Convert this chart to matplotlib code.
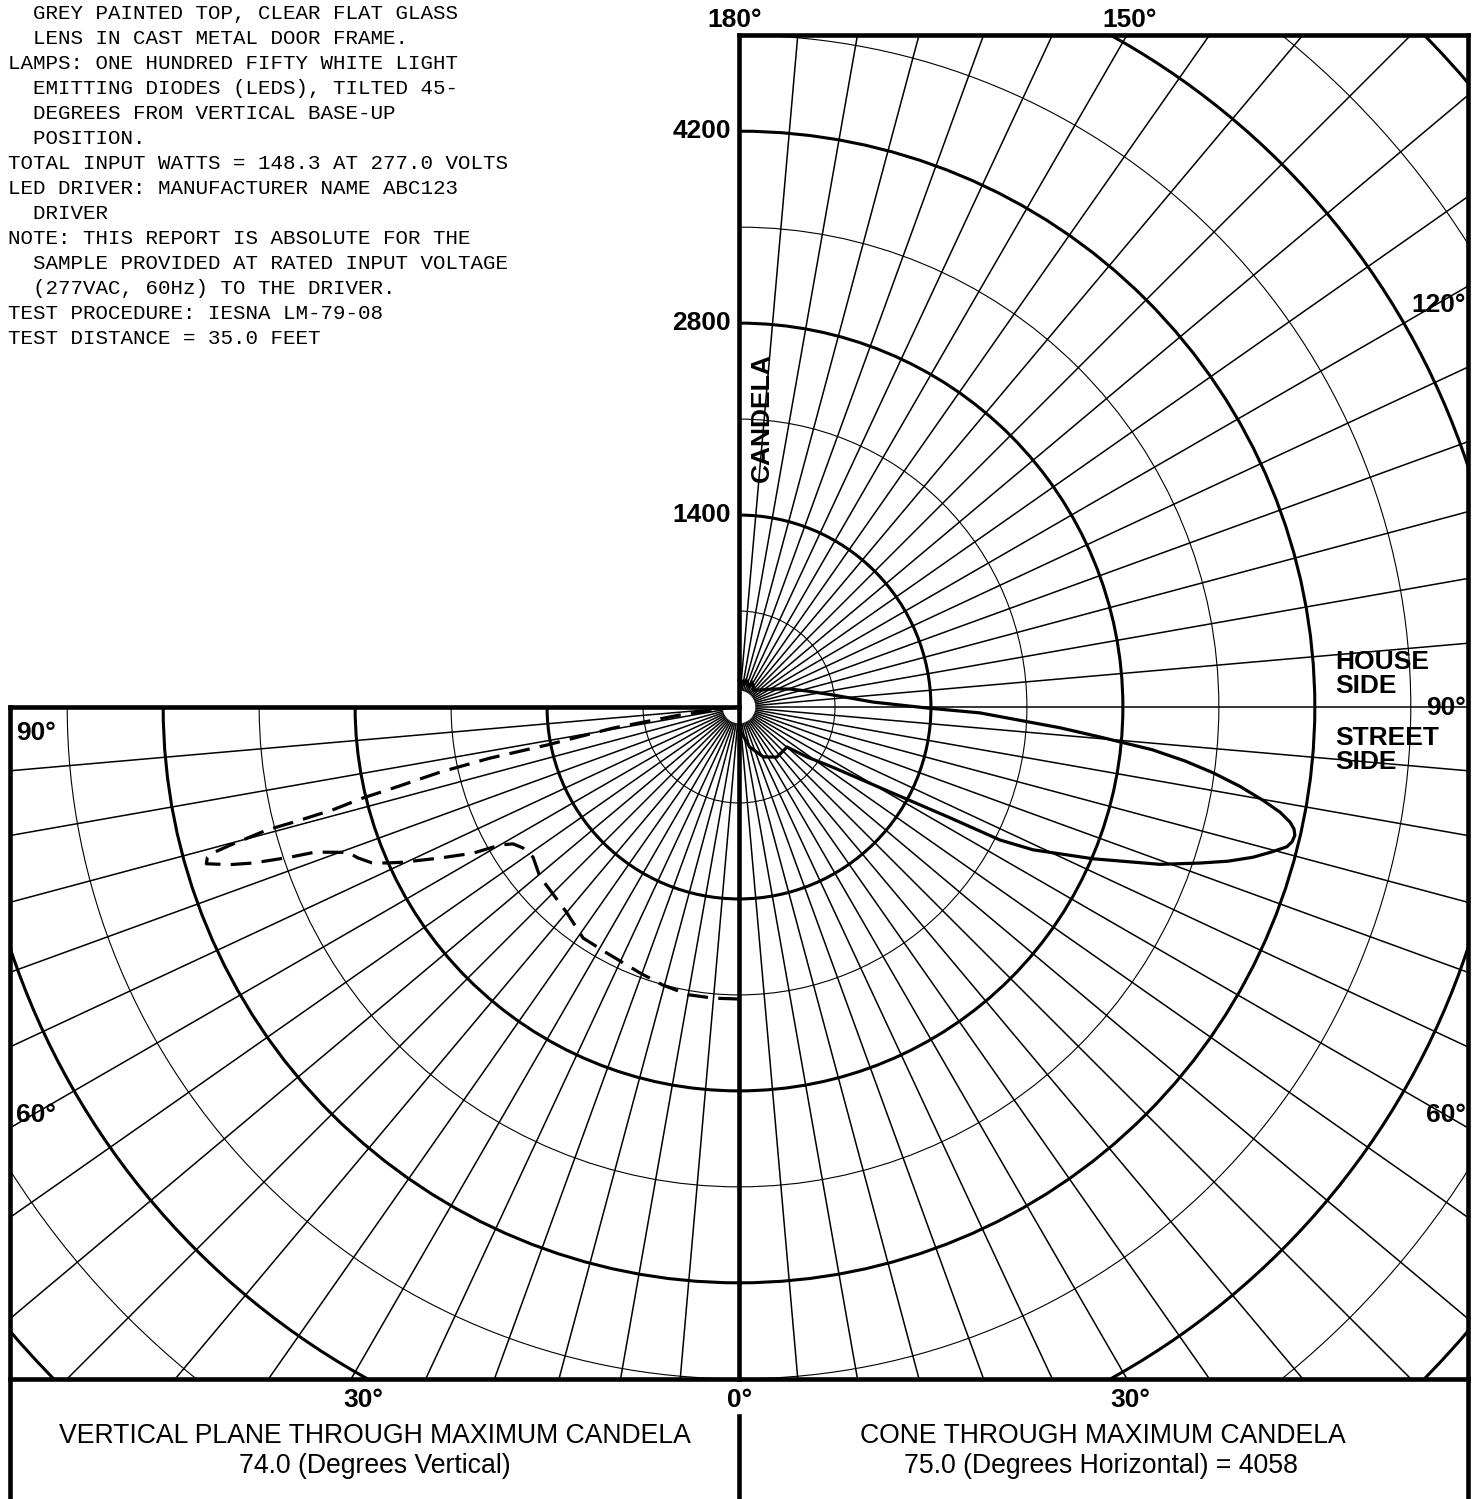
import numpy as np
import matplotlib.pyplot as plt
from matplotlib.patches import Arc, Rectangle

# vertical plane through maximum candela: degrees from nadir (toward the left) -> candela
vert_deg = [0, 5, 10, 15.3, 20.4, 28.2, 34, 39.9, 45.9, 49.5, 53.9, 56.9, 58.8, 60.0,
            61.2, 63.2, 65.2, 66.1, 67.0, 68.4, 69.6, 71.1, 71.5, 72.2, 72.8, 73.6,
            74.2, 74.5, 74.8, 75.4, 75.5, 75.8, 76.4, 76.8, 77.7, 78.4, 78.8, 80.5,
            82.3, 83.4, 85, 90]
vert_cd = [2130, 2132, 2131, 2103, 2070, 2037, 2033, 1957, 1919, 1909, 1859, 1882, 1927, 2013,
           2213, 2443, 2699, 2808, 2909, 2990, 3042, 3268, 3452, 3723, 3888, 4050,
           4030, 3982, 3847, 3557, 3360, 3055, 2822, 2592, 2232, 1854, 1428, 932,
           434, 191, 80, 0]

# cone through maximum candela: degrees horizontal (0 = street nadir, 180 = house) -> candela
cone_deg = [0, 2.5, 15, 26, 37, 44, 50.2, 53.7, 57, 61, 62.3, 63, 64.1, 66.8, 69.5,
            71.3, 72.5, 73.7, 74.8, 75.7, 76.3, 77.0, 77.6, 78.2, 79.0, 79.9, 81.0,
            82.1, 83.1, 84.1, 85.25, 86.3, 88.6, 89.7, 92.1, 97.3, 103.2, 109.4,
            117.9, 129, 138.6, 152.5, 153, 165.5, 167, 176, 180]
cone_cd = [170, 168, 303, 405, 458, 454, 456, 616, 791, 1343, 1739, 2137, 2385, 2810, 3277,
           3550, 3740, 3905, 4029, 4125, 4152, 4161, 4145, 4106, 4020, 3882, 3699,
           3491, 3277, 3029, 2642, 2346, 1758, 1371, 979, 691, 510, 394,
           281, 197, 165, 206, 163, 204, 165, 197, 200]

ring_cd = [700, 1400, 2100, 2800, 3500, 4200, 4900, 5600, 6300, 7000]
ring_labels = [1400, 2800, 4200]

notes = [
    "  GREY PAINTED TOP, CLEAR FLAT GLASS",
    "  LENS IN CAST METAL DOOR FRAME.",
    "LAMPS: ONE HUNDRED FIFTY WHITE LIGHT",
    "  EMITTING DIODES (LEDS), TILTED 45-",
    "  DEGREES FROM VERTICAL BASE-UP",
    "  POSITION.",
    "TOTAL INPUT WATTS = 148.3 AT 277.0 VOLTS",
    "LED DRIVER: MANUFACTURER NAME ABC123",
    "  DRIVER",
    "NOTE: THIS REPORT IS ABSOLUTE FOR THE",
    "  SAMPLE PROVIDED AT RATED INPUT VOLTAGE",
    "  (277VAC, 60Hz) TO THE DRIVER.",
    "TEST PROCEDURE: IESNA LM-79-08",
    "TEST DISTANCE = 35.0 FEET",
]

W, H = 1478, 1499
CX, CY = 739, 707          # pole of both diagrams (pixels)
S = 0.1371                 # pixels per candela
LEFT, RIGHT, TOP, BOTTOM = 10, 1468, 35, 1379
R_IN = 125                 # small blank hole round the pole

BOLD = dict(family='Liberation Sans', fontweight='bold', fontsize=19)
REG = dict(family='Liberation Sans', fontsize=19.2)

fig = plt.figure(figsize=(W / 100, H / 100), dpi=100)
ax = fig.add_axes([0, 0, 1, 1])
ax.set_xlim(-CX / S, (W - CX) / S)
ax.set_ylim(-(H - CY) / S, CY / S)
ax.axis('off')

lay = fig.add_axes([0, 0, 1, 1], zorder=5)
lay.set_xlim(0, W)
lay.set_ylim(H, 0)
lay.axis('off')
lay.patch.set_alpha(0)

right_clip = Rectangle((CX, TOP), RIGHT - CX, BOTTOM - TOP, transform=lay.transData)
left_clip = Rectangle((LEFT, CY), CX - LEFT, BOTTOM - CY, transform=lay.transData)


def cone_xy(deg, cd):
    t = np.radians(deg)
    return np.asarray(cd) * np.sin(t), -np.asarray(cd) * np.cos(t)


def vert_xy(deg, cd):
    t = np.radians(deg)
    return -np.asarray(cd) * np.sin(t), -np.asarray(cd) * np.cos(t)


# rings
for r in ring_cd:
    lw = 2.2 if r % 1400 == 0 else 0.8
    for (t1, t2), clip in [((-90, 90), right_clip), ((180, 270), left_clip)]:
        arc = Arc((0, 0), 2 * r, 2 * r, theta1=t1, theta2=t2, color='k', lw=lw)
        ax.add_patch(arc)
        arc.set_clip_path(clip)

# radials every 5 degrees
for a in range(5, 180, 5):
    ln, = ax.plot(*cone_xy([a, a], [R_IN, 9000]), color='k', lw=1.1)
    ln.set_clip_path(right_clip)
for a in range(5, 90, 5):
    ln, = ax.plot(*vert_xy([a, a], [R_IN, 9000]), color='k', lw=1.1)
    ln.set_clip_path(left_clip)

# distributions
ax.plot(*cone_xy(cone_deg, cone_cd), color='k', lw=2.3, solid_joinstyle='round')
ax.plot(*vert_xy(vert_deg, vert_cd), color='k', lw=2.3, linestyle=(0, (6.5, 3.2)))

# frame
fk = dict(color='k', lw=3.3, solid_capstyle='projecting')
lay.plot([CX, RIGHT], [TOP, TOP], **fk)
lay.plot([RIGHT, RIGHT], [TOP, H + 5], **fk)
lay.plot([LEFT, CX], [CY, CY], **fk)
lay.plot([LEFT, LEFT], [CY, H + 5], **fk)
lay.plot([LEFT, RIGHT], [BOTTOM, BOTTOM], **fk)
lay.plot([CX, CX], [TOP, BOTTOM], **fk)
lay.plot([CX, CX], [1416, H + 5], **fk)

# labels
lay.text(735, 20, '180°', ha='center', va='center', **BOLD)
lay.text(1130, 20, '150°', ha='center', va='center', **BOLD)
for v in ring_labels:
    lay.text(731, CY - v * S, str(v), ha='right', va='center', **BOLD)
lay.text(762, 418, 'CANDELA', rotation=90, ha='center', va='center', **BOLD)
lay.text(1466, 305, '120°', ha='right', va='center', **BOLD)
lay.text(1466, 708, '90°', ha='right', va='center', **BOLD)
lay.text(1466, 1115, '60°', ha='right', va='center', **BOLD)
lay.text(16, 733, '90°', ha='left', va='center', **BOLD)
lay.text(16, 1115, '60°', ha='left', va='center', **BOLD)
lay.text(1335, 674, 'HOUSE\nSIDE', ha='left', va='center', linespacing=0.95, **BOLD)
lay.text(1335, 750, 'STREET\nSIDE', ha='left', va='center', linespacing=0.95, **BOLD)
lay.text(363, 1400, '30°', ha='center', va='center', **BOLD)
lay.text(740, 1400, '0°', ha='center', va='center', **BOLD)
lay.text(1130, 1400, '30°', ha='center', va='center', **BOLD)

lay.text(375, 1436, 'VERTICAL PLANE THROUGH MAXIMUM CANDELA', ha='center', va='center', **REG)
lay.text(375, 1466, '74.0 (Degrees Vertical)', ha='center', va='center', **REG)
lay.text(1103, 1436, 'CONE THROUGH MAXIMUM CANDELA', ha='center', va='center', **REG)
lay.text(1101, 1466, '75.0 (Degrees Horizontal) = 4058', ha='center', va='center', **REG)

for i, line in enumerate(notes):
    lay.text(8, 13 + 25 * i, line, ha='left', va='center',
             family='Liberation Mono', fontsize=15)

fig.savefig('out.png', dpi=100)
